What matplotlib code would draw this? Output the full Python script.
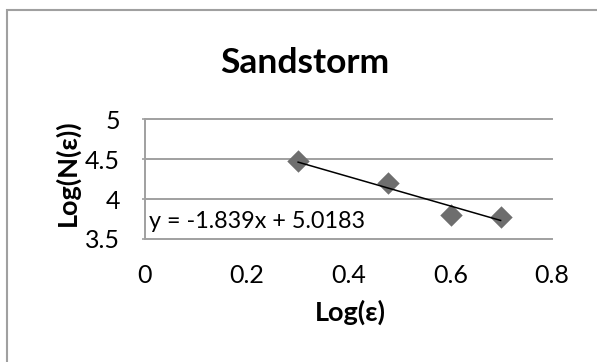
import numpy as np
import matplotlib
matplotlib.use('Agg')
import matplotlib.pyplot as plt
from matplotlib.patches import Rectangle

plt.rcParams['font.family'] = ['Lato', 'DejaVu Sans']

# 데이터
log_eps = [0.301, 0.477, 0.602, 0.699]
log_n = [4.478, 4.204, 3.80, 3.78]

# 추세선 (그림의 식)
slope = -1.839
intercept = 5.0183
eq_label = 'y = -1.839x + 5.0183'

title = 'Sandstorm'
x_label = 'Log(ε)'
y_label = 'Log(N(ε))'
x_ticks = [0, 0.2, 0.4, 0.6, 0.8]
x_tick_labels = ['0', '0.2', '0.4', '0.6', '0.8']
y_ticks = [3.5, 4, 4.5, 5]
y_tick_labels = ['3.5', '4', '4.5', '5']

W, H = 597, 362
fig = plt.figure(figsize=(W / 100, H / 100), dpi=100)
ax = fig.add_axes([145 / W, 1 - 239 / H, 407 / W, 119.5 / H])

grid_c = '#a0a0a0'

# 바깥 테두리 (오른쪽/아래는 그림 밖으로)
fig.patches.append(Rectangle((7 / W, -0.2), 1.5, 1.2 - 10 / H,
                             transform=fig.transFigure, fill=False,
                             edgecolor=grid_c, linewidth=1.5))

ax.set_xlim(0, 0.8)
ax.set_ylim(3.5, 5)
ax.set_yticks(y_ticks)
ax.set_yticklabels(y_tick_labels)
ax.set_xticks(x_ticks)
ax.set_xticklabels(x_tick_labels)
ax.yaxis.grid(True, color=grid_c, linewidth=1.4)
for gl in ax.get_ygridlines():
    gl.set_clip_on(False)
ax.set_axisbelow(True)

for s in ['top', 'right', 'bottom']:
    ax.spines[s].set_visible(False)
ax.spines['left'].set_color(grid_c)
ax.spines['left'].set_linewidth(1.4)

ax.tick_params(axis='y', length=2, width=1.2, color=grid_c, labelsize=18, pad=16)
ax.tick_params(axis='x', length=0, labelsize=18, pad=18)

# 점과 추세선
ax.scatter(log_eps, log_n, marker='D', s=130, color='#6e6e6e', zorder=3,
           linewidths=0)
xs = np.array([log_eps[0], log_eps[-1]])
ax.plot(xs, slope * xs + intercept, color='black', linewidth=1.1, zorder=4)

ax.text(0.008, 3.724, eq_label, fontsize=16.8, ha='left', va='center')

ax.set_xlabel(x_label, fontsize=19.5, fontweight='bold')
ax.xaxis.set_label_coords((350 - 145) / 407, -(312 - 239) / 119.5)
ax.xaxis.label.set_va('center')
ax.set_ylabel(y_label, fontsize=19.5, fontweight='bold')
ax.yaxis.set_label_coords((67 - 145) / 407, 0.556)
ax.yaxis.label.set_va('center')

fig.text(305 / W, 1 - 63 / H, title, fontsize=25.5, fontweight='bold',
         ha='center', va='center')

fig.savefig('out.png', dpi=100)
